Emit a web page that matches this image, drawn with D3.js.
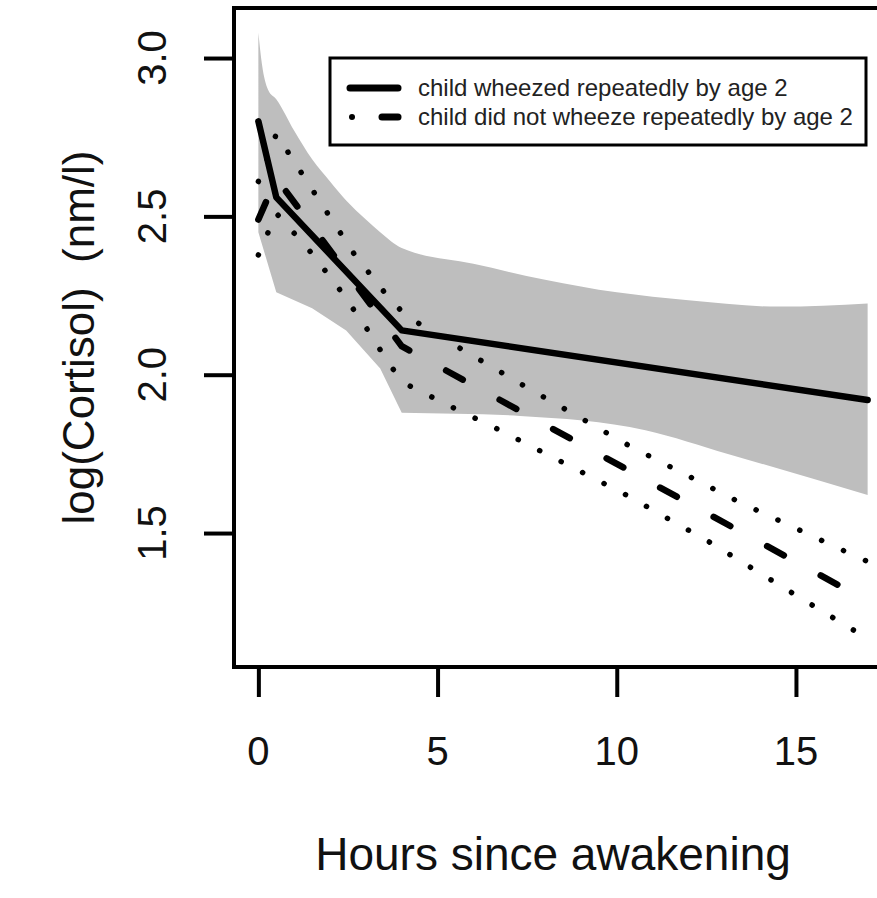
<!DOCTYPE html>
<html><head><meta charset="utf-8">
<script src="https://cdn.jsdelivr.net/npm/d3@7/dist/d3.min.js"></script>
<style>body{margin:0;background:#fff} svg{display:block}</style>
</head><body>
<script>
// ---- data ----
const xTicks = [0, 5, 10, 15];
const yTicks = [1.5, 2.0, 2.5, 3.0];
const legendLabels = ["child wheezed repeatedly by age 2", "child did not wheeze repeatedly by age 2"];

const wheezeHours = [0, 0.5, 4, 17];
const wheezeFit   = [2.80, 2.56, 2.14, 1.92];

const bandUpperHours = [0, 0.1, 0.27, 0.5, 1.0, 1.5, 2.0, 2.45, 3.0, 3.4, 4.0, 6.0, 8.0, 10.0, 12.0, 14.5, 17];
const bandUpper      = [3.08, 2.98, 2.90, 2.87, 2.77, 2.68, 2.61, 2.55, 2.49, 2.45, 2.40, 2.35, 2.30, 2.26, 2.235, 2.215, 2.225];
// lower edge, early part (0–4 h) and late part (4–17 h)
const bandLowerEarlyHours = [0, 0.5, 1.5, 2.45, 3.4, 4.0];
const bandLowerEarly      = [2.45, 2.26, 2.21, 2.14, 2.02, 1.88];
const bandLowerLateHours  = [4.0, 7.3, 10.8, 13.1, 17];
const bandLowerLate       = [1.88, 1.87, 1.825, 1.75, 1.62];

const noWheezeHours = [0, 0.5, 4, 17];
const noWheezeFit   = [2.49, 2.62, 2.09, 1.285];
const noWheezeUpperHours = [0, 0.5, 1.93, 2.68, 3.52, 4.0, 4.5, 5.68, 7.43, 10.36, 13.38, 16.47, 17];
const noWheezeUpper      = [2.61, 2.76, 2.51, 2.38, 2.26, 2.20, 2.16, 2.08, 1.964, 1.775, 1.60, 1.437, 1.41];
const noWheezeLowerHours = [0, 0.5, 1.37, 2.2, 3.0, 3.7, 4.13, 5.36, 6.56, 10.22, 12.58, 14.85, 16.6, 17];
const noWheezeLower      = [2.378, 2.51, 2.40, 2.28, 2.15, 2.025, 1.97, 1.90, 1.835, 1.623, 1.472, 1.314, 1.194, 1.17];

// ---- layout ----
const W = 877, H = 898;
const FONT = "'Liberation Sans', Arial, Helvetica, sans-serif";
const svg = d3.select("body").append("svg").attr("width", W).attr("height", H)
  .style("font-family", FONT);

const x = d3.scaleLinear().domain([-0.68, 17.68]).range([234, 892]);
const y = d3.scaleLinear().domain([1.077, 3.158]).range([667, 8]);

const pts = (hs, vs) => hs.map((h, i) => [h, vs[i]]);
const line = d3.line().x(d => x(d[0])).y(d => y(d[1]));
const smooth = d3.line().x(d => x(d[0])).y(d => y(d[1])).curve(d3.curveMonotoneX);

svg.append("defs").append("clipPath").attr("id", "clip")
  .append("rect").attr("x", x(-0.68)).attr("y", y(3.158))
  .attr("width", x(17.68) - x(-0.68)).attr("height", y(1.077) - y(3.158));

const plot = svg.append("g").attr("clip-path", "url(#clip)");

// confidence band (wheezed): upper edge left->right, lower edge right->left
const upperPath = smooth(pts(bandUpperHours, bandUpper));
const lateRev = smooth(pts(bandLowerLateHours, bandLowerLate).reverse());
const earlyRev = line(pts(bandLowerEarlyHours, bandLowerEarly).reverse());
plot.append("path")
  .attr("d", upperPath + "L" + lateRev.slice(1) + "L" + earlyRev.slice(1) + "Z")
  .attr("fill", "#bebebe").attr("stroke", "none");

// non-wheeze CI dotted lines
[pts(noWheezeUpperHours, noWheezeUpper), pts(noWheezeLowerHours, noWheezeLower)].forEach(p => {
  plot.append("path").attr("d", line(p)).attr("fill", "none")
    .attr("stroke", "#000").attr("stroke-width", 5.5)
    .attr("stroke-linecap", "round").attr("stroke-dasharray", "0.1 24");
});
// non-wheeze dashed fit
plot.append("path").attr("d", line(pts(noWheezeHours, noWheezeFit))).attr("fill", "none")
  .attr("stroke", "#000").attr("stroke-width", 6.5)
  .attr("stroke-linecap", "round").attr("stroke-dasharray", "19 42");
// wheeze solid fit
plot.append("path").attr("d", line(pts(wheezeHours, wheezeFit))).attr("fill", "none")
  .attr("stroke", "#000").attr("stroke-width", 6.5)
  .attr("stroke-linecap", "round").attr("stroke-linejoin", "round");

// frame
svg.append("rect").attr("x", x(-0.68)).attr("y", y(3.158))
  .attr("width", x(17.68) - x(-0.68)).attr("height", y(1.077) - y(3.158))
  .attr("fill", "none").attr("stroke", "#000").attr("stroke-width", 4);

// axes
const xAxis = svg.append("g").attr("transform", `translate(0,${y(1.077)})`)
  .call(d3.axisBottom(x).tickValues(xTicks).tickSize(30).tickSizeOuter(0).tickFormat(""));
xAxis.select(".domain").remove();
xAxis.selectAll(".tick line").attr("stroke", "#000").attr("stroke-width", 4);

const yAxis = svg.append("g").attr("transform", `translate(${x(-0.68)},0)`)
  .call(d3.axisLeft(y).tickValues(yTicks).tickSize(30).tickSizeOuter(0).tickFormat(""));
yAxis.select(".domain").remove();
yAxis.selectAll(".tick line").attr("stroke", "#000").attr("stroke-width", 4);

// tick labels
svg.append("g").selectAll("text").data(xTicks).join("text")
  .attr("x", d => x(d)).attr("y", 765).attr("text-anchor", "middle")
  .attr("font-size", 40).attr("fill", "#111").text(d => d);
svg.append("g").selectAll("text").data(yTicks).join("text")
  .attr("transform", d => `translate(166,${y(d)}) rotate(-90)`)
  .attr("text-anchor", "middle").attr("font-size", 40).attr("fill", "#111")
  .text(d => d.toFixed(1));

// axis titles
svg.append("text").attr("x", (x(-0.68) + 872) / 2).attr("y", 870)
  .attr("text-anchor", "middle").attr("font-size", 46).attr("fill", "#111")
  .text("Hours since awakening");
svg.append("text").attr("transform", `translate(94,${(y(3.158) + y(1.077)) / 2}) rotate(-90)`)
  .attr("text-anchor", "middle").attr("font-size", 44).attr("fill", "#111")
  .style("white-space", "pre")
  .text("log(Cortisol)  (nm/l)");

// legend
const lg = svg.append("g");
lg.append("rect").attr("x", 330).attr("y", 58).attr("width", 536).attr("height", 87)
  .attr("fill", "#fff").attr("stroke", "#000").attr("stroke-width", 3);
const rows = [88, 117];
lg.append("line").attr("x1", 350).attr("x2", 398).attr("y1", rows[0]).attr("y2", rows[0])
  .attr("stroke", "#000").attr("stroke-width", 7).attr("stroke-linecap", "round");
lg.append("circle").attr("cx", 352).attr("cy", rows[1]).attr("r", 3).attr("fill", "#000");
lg.append("line").attr("x1", 382).attr("x2", 398).attr("y1", rows[1]).attr("y2", rows[1])
  .attr("stroke", "#000").attr("stroke-width", 7).attr("stroke-linecap", "round");
lg.selectAll("text.lab").data(legendLabels).join("text").attr("class", "lab")
  .attr("x", 418).attr("y", (d, i) => rows[i]).attr("dy", "0.35em")
  .attr("font-size", 24).attr("fill", "#222").text(d => d);
</script>
</body></html>
